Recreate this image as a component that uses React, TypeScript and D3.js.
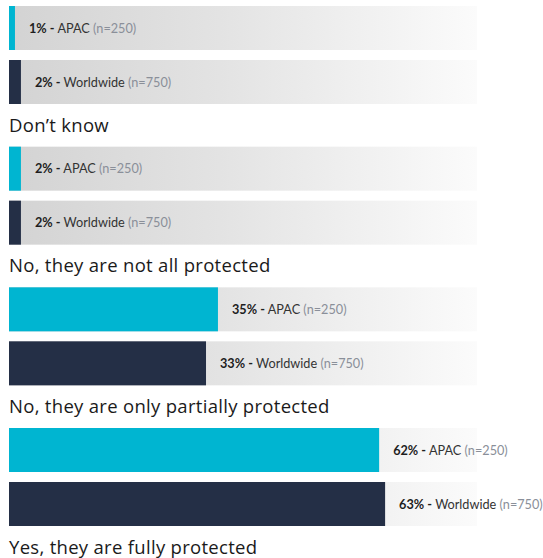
import React from "react";
import * as d3 from "d3";

const groupTitles = [
  "",
  "Don't know",
  "No, they are not all protected",
  "No, they are only partially protected",
  "Yes, they are fully protected",
];
const apacValues = [1, 2, 35, 62];
const worldwideValues = [2, 2, 33, 63];
const seriesNames = ["APAC", "Worldwide"];
const sampleSizes = ["(n=250)", "(n=750)"];
const seriesColors = ["#00b5d1", "#242f46"];

const W = 543;
const H = 558;
const FONT = "Lato, 'Open Sans', sans-serif";
const TITLE_FONT = "'Open Sans', Lato, sans-serif";

export default function App() {
  const x = d3.scaleLinear().domain([0, 100]).range([0, 597]);
  const left = 9;
  const groupTop = d3.scaleLinear().domain([0, 3]).range([6, 428]);
  const barH = 44;
  const barGap = 54;
  const bgWidth = 468;

  return (
    <svg
      width={W}
      height={H}
      style={{ position: "absolute", left: 0, top: 0, background: "#fff" }}
    >
      <defs>
        <linearGradient id="bg" x1="0" x2="1" y1="0" y2="0">
          <stop offset="0" stopColor="#d3d3d3" />
          <stop offset="0.45" stopColor="#e3e3e3" />
          <stop offset="1" stopColor="#fbfbfb" />
        </linearGradient>
      </defs>
      {groupTitles.map((t, i) =>
        t ? (
          <text
            key={"t" + i}
            x={left}
            y={groupTop(i) - 15}
            fontFamily={TITLE_FONT}
            fontSize={18.5}
            letterSpacing={0.3}
            fill="#1a1a1a"
          >
            {t.replace("'", "\u2019")}
          </text>
        ) : null
      )}
      {apacValues.map((_, i) =>
        [apacValues[i], worldwideValues[i]].map((v, s) => {
          const y = groupTop(i) + s * barGap;
          const w = x(v);
          return (
            <g key={i + "-" + s}>
              <rect x={left} y={y} width={bgWidth} height={barH} fill="url(#bg)" />
              <rect x={left} y={y} width={w} height={barH} fill={seriesColors[s]} />
              <text
                x={left + w + 14}
                y={y + barH / 2 + 4.5}
                fontFamily={FONT}
                fontSize={12.7}
              >
                <tspan fontWeight={700} fill="#1e1e1e">
                  {v}% -
                </tspan>
                <tspan fill="#333"> {seriesNames[s]} </tspan>
                <tspan fill="#8a8f99">{sampleSizes[s]}</tspan>
              </text>
            </g>
          );
        })
      )}
    </svg>
  );
}
